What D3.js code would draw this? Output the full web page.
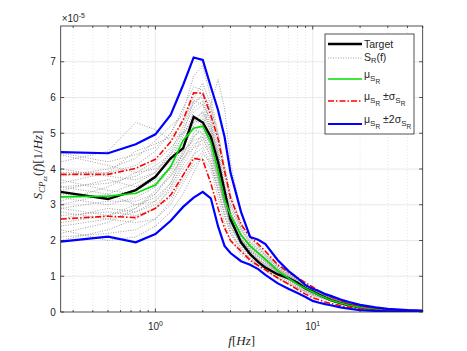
<!DOCTYPE html>
<html>
<head>
<meta charset="utf-8">
<style>
  body { margin: 0; background: #fff; }
  text { font-family: "Liberation Sans", Arial, sans-serif; fill: #262626; }
  .tex { font-family: "Liberation Serif", "DejaVu Serif", serif; font-style: italic; }
</style>
</head>
<body>
<div id="container"></div>
<script src="https://cdn.jsdelivr.net/npm/d3@7"></script>
<script>

// frequencies (Hz) for the statistic curves, values in units of 1e-5
const freq = [0.25, 0.5, 0.75, 1, 1.25, 1.5, 1.75, 2, 2.25, 2.5, 2.75, 3, 3.5, 4, 4.5, 5, 6, 7, 8, 9, 10, 11, 12, 13, 15, 17, 20, 25, 30, 40, 50];

const target   = [3.36, 3.16, 3.41, 3.78, 4.30, 4.58, 5.46, 5.30, 4.90, 4.20, 3.40, 2.60, 1.95, 1.62, 1.40, 1.24, 1.05, 0.95, 0.82, 0.66, 0.57, 0.48, 0.40, 0.33, 0.25, 0.19, 0.13, 0.08, 0.05, 0.03, 0.02];
const mu       = [3.22, 3.24, 3.32, 3.55, 4.06, 4.80, 5.14, 5.20, 4.75, 3.95, 3.15, 2.70, 2.15, 1.85, 1.65, 1.47, 1.15, 0.95, 0.78, 0.66, 0.56, 0.47, 0.40, 0.33, 0.25, 0.19, 0.13, 0.08, 0.05, 0.03, 0.02];
const muPlusS  = [3.85, 3.85, 4.02, 4.27, 4.76, 5.37, 6.13, 6.12, 5.50, 4.85, 3.95, 3.20, 2.45, 2.10, 1.90, 1.70, 1.32, 1.12, 0.96, 0.82, 0.70, 0.58, 0.50, 0.42, 0.32, 0.25, 0.17, 0.11, 0.07, 0.04, 0.03];
const muMinusS = [2.60, 2.68, 2.64, 2.90, 3.27, 3.83, 4.30, 4.25, 3.60, 2.90, 2.35, 2.00, 1.70, 1.45, 1.30, 1.18, 0.95, 0.78, 0.63, 0.50, 0.40, 0.34, 0.28, 0.24, 0.18, 0.13, 0.09, 0.05, 0.03, 0.02, 0.01];
const muPlus2S = [4.47, 4.44, 4.69, 4.97, 5.51, 6.35, 7.12, 7.05, 6.30, 5.65, 4.90, 3.90, 2.80, 2.10, 2.02, 1.90, 1.45, 1.15, 0.95, 0.75, 0.65, 0.58, 0.50, 0.45, 0.35, 0.28, 0.20, 0.13, 0.09, 0.05, 0.04];
const muMinus2S = [1.97, 2.11, 1.95, 2.18, 2.55, 2.94, 3.20, 3.36, 3.18, 2.40, 1.85, 1.65, 1.42, 1.32, 1.20, 1.04, 0.80, 0.65, 0.53, 0.42, 0.31, 0.26, 0.22, 0.19, 0.13, 0.09, 0.05, 0.03, 0.02, 0.01, 0.005];

// individual realisations S_R(f)
const sampleFreq = [0.25, 0.5, 0.75, 1, 1.25, 1.5, 1.75, 2, 2.25, 2.5, 2.75, 3, 3.5, 4, 5, 6, 8, 10, 13, 20, 30, 50];
const samples = [
  [4.45, 4.20, 4.40, 4.60, 5.00, 5.60, 6.60, 6.90, 6.00, 5.00, 4.00, 3.20, 2.40, 2.00, 1.60, 1.30, 0.90, 0.65, 0.45, 0.18, 0.08, 0.03],
  [2.20, 2.50, 2.90, 3.30, 3.80, 4.40, 5.00, 5.30, 4.80, 4.00, 3.20, 2.60, 2.00, 1.70, 1.30, 1.05, 0.78, 0.55, 0.38, 0.14, 0.06, 0.02],
  [3.90, 3.90, 4.10, 4.50, 5.00, 5.70, 6.30, 6.20, 5.60, 4.60, 3.60, 3.00, 2.30, 1.90, 1.50, 1.20, 0.85, 0.60, 0.42, 0.16, 0.07, 0.03],
  [2.90, 3.10, 3.10, 3.30, 3.90, 4.50, 4.80, 4.90, 4.30, 3.60, 3.00, 2.50, 2.00, 1.80, 1.45, 1.15, 0.80, 0.58, 0.40, 0.15, 0.06, 0.02],
  [3.50, 3.60, 3.80, 4.10, 4.40, 4.90, 5.60, 5.80, 5.40, 4.50, 3.50, 2.80, 2.20, 1.90, 1.55, 1.25, 0.85, 0.62, 0.44, 0.17, 0.07, 0.03],
  [2.40, 2.60, 2.80, 3.00, 3.40, 4.00, 4.40, 4.60, 4.20, 3.40, 2.70, 2.20, 1.80, 1.50, 1.25, 1.00, 0.70, 0.50, 0.33, 0.12, 0.05, 0.02],
  [3.20, 3.00, 3.20, 3.50, 4.00, 4.60, 5.20, 5.50, 5.00, 4.20, 3.30, 2.70, 2.10, 1.75, 1.40, 1.10, 0.80, 0.56, 0.38, 0.14, 0.06, 0.02],
  [4.20, 4.50, 5.30, 5.10, 4.80, 5.00, 5.40, 5.60, 5.20, 4.40, 3.50, 2.80, 2.20, 1.80, 1.50, 1.20, 0.82, 0.60, 0.42, 0.15, 0.06, 0.02],
  [2.70, 2.80, 2.70, 2.90, 3.50, 4.20, 4.90, 5.20, 5.80, 6.50, 5.70, 4.20, 2.80, 2.10, 1.60, 1.25, 0.88, 0.63, 0.45, 0.17, 0.07, 0.03],
  [3.70, 3.40, 3.30, 3.60, 4.10, 4.80, 5.40, 5.20, 4.60, 3.80, 3.00, 2.50, 2.00, 1.70, 1.40, 1.10, 0.76, 0.54, 0.37, 0.13, 0.05, 0.02],
  [2.10, 2.20, 2.30, 2.60, 3.00, 3.60, 4.10, 4.30, 4.00, 3.20, 2.50, 2.00, 1.60, 1.40, 1.15, 0.92, 0.66, 0.45, 0.30, 0.10, 0.04, 0.015],
  [3.00, 3.30, 3.60, 3.90, 4.50, 5.20, 5.90, 6.00, 5.30, 4.40, 3.40, 2.90, 2.30, 1.95, 1.60, 1.30, 0.90, 0.64, 0.46, 0.17, 0.07, 0.03],
  [4.40, 4.10, 3.90, 4.00, 4.30, 4.80, 5.10, 5.00, 4.50, 3.70, 3.00, 2.40, 1.90, 1.60, 1.35, 1.10, 0.75, 0.52, 0.36, 0.13, 0.05, 0.02],
  [2.50, 2.70, 3.00, 3.20, 3.60, 4.30, 4.70, 4.80, 4.50, 3.80, 3.10, 2.50, 1.95, 1.65, 1.35, 1.08, 0.74, 0.52, 0.35, 0.13, 0.05, 0.02],
  [3.40, 3.70, 3.50, 3.80, 4.20, 5.00, 5.90, 5.80, 5.00, 4.00, 3.20, 2.60, 2.05, 1.75, 1.45, 1.15, 0.80, 0.57, 0.40, 0.15, 0.06, 0.02],
  [2.30, 2.00, 2.10, 2.40, 2.80, 3.30, 3.90, 4.40, 4.20, 3.50, 2.80, 2.30, 1.75, 1.50, 1.20, 0.95, 0.68, 0.47, 0.32, 0.11, 0.04, 0.015],
  [3.80, 4.00, 4.30, 4.80, 5.20, 5.50, 5.80, 6.10, 5.70, 5.00, 4.10, 3.30, 2.50, 2.05, 1.65, 1.30, 0.90, 0.66, 0.47, 0.18, 0.08, 0.03],
  [2.80, 2.60, 2.50, 2.60, 3.10, 3.80, 4.40, 4.90, 4.60, 3.80, 3.00, 2.40, 1.85, 1.55, 1.30, 1.02, 0.72, 0.50, 0.34, 0.12, 0.05, 0.02],
  [3.10, 3.50, 3.90, 4.20, 4.60, 5.00, 5.30, 5.40, 4.90, 4.10, 3.30, 2.70, 2.15, 1.85, 1.50, 1.20, 0.84, 0.60, 0.42, 0.16, 0.06, 0.02],
  [2.60, 2.90, 2.80, 3.10, 3.50, 4.10, 4.60, 5.00, 4.70, 3.90, 3.10, 2.55, 2.00, 1.70, 1.40, 1.12, 0.78, 0.56, 0.38, 0.14, 0.05, 0.02],
  [4.00, 3.80, 3.70, 3.90, 4.40, 5.10, 5.70, 5.90, 5.20, 4.30, 3.40, 2.75, 2.15, 1.85, 1.50, 1.20, 0.83, 0.59, 0.41, 0.15, 0.06, 0.02],
  [3.30, 3.20, 3.40, 3.70, 4.00, 4.40, 4.90, 5.10, 4.70, 4.00, 3.20, 2.60, 2.05, 1.72, 1.42, 1.12, 0.79, 0.56, 0.39, 0.14, 0.06, 0.02],
  [2.00, 2.30, 2.60, 2.90, 3.20, 3.70, 4.20, 4.50, 4.10, 3.40, 2.70, 2.20, 1.70, 1.45, 1.20, 0.96, 0.68, 0.48, 0.33, 0.12, 0.05, 0.02],
  [3.60, 3.90, 4.50, 4.70, 4.90, 5.30, 6.00, 6.40, 5.80, 4.80, 3.80, 3.05, 2.35, 1.95, 1.55, 1.25, 0.87, 0.62, 0.44, 0.17, 0.07, 0.03],
  [2.90, 2.70, 2.90, 3.40, 3.80, 4.30, 4.60, 4.70, 4.40, 3.70, 2.95, 2.40, 1.90, 1.62, 1.32, 1.06, 0.75, 0.53, 0.36, 0.13, 0.05, 0.02],
  [3.50, 3.30, 3.00, 3.10, 3.60, 4.50, 5.30, 5.60, 5.10, 4.30, 3.40, 2.75, 2.15, 1.80, 1.48, 1.18, 0.82, 0.58, 0.40, 0.15, 0.06, 0.02]
];

const yTicks = [0, 1, 2, 3, 4, 5, 6, 7];
const xMajor = [1, 10];
const xMinor = [0.3, 0.4, 0.5, 0.6, 0.7, 0.8, 0.9, 2, 3, 4, 5, 6, 7, 8, 9, 20, 30, 40, 50];

const W = 467, H = 351;
const m = { left: 60.7, right: 467 - 422.7, top: 26, bottom: 351 - 312 };

const svg = d3.select("#container").append("svg")
  .attr("width", W).attr("height", H);

const x = d3.scaleLog().domain([0.25, 50]).range([m.left, W - m.right]);
const y = d3.scaleLinear().domain([0, 8]).range([H - m.bottom, m.top]);

const plot = svg.append("g");

// grid
plot.selectAll(".hgrid").data(yTicks.filter(d => d > 0)).join("line")
  .attr("x1", x.range()[0]).attr("x2", x.range()[1])
  .attr("y1", d => y(d)).attr("y2", d => y(d))
  .attr("stroke", "#e3e3e3").attr("stroke-width", 0.8);
plot.selectAll(".vminor").data(xMinor.filter(d => d < 50)).join("line")
  .attr("x1", d => x(d)).attr("x2", d => x(d))
  .attr("y1", y.range()[0]).attr("y2", y.range()[1])
  .attr("stroke", "#dcdcdc").attr("stroke-width", 0.7).attr("stroke-dasharray", "1,2");
plot.selectAll(".vmajor").data(xMajor).join("line")
  .attr("x1", d => x(d)).attr("x2", d => x(d))
  .attr("y1", y.range()[0]).attr("y2", y.range()[1])
  .attr("stroke", "#e3e3e3").attr("stroke-width", 0.8);

svg.append("clipPath").attr("id", "clip").append("rect")
  .attr("x", m.left).attr("y", m.top)
  .attr("width", W - m.left - m.right).attr("height", H - m.top - m.bottom);

const lines = plot.append("g").attr("clip-path", "url(#clip)");

const lineOn = xs => d3.line().x((d, i) => x(xs[i])).y(d => y(d));

// samples
lines.selectAll(".sample").data(samples).join("path")
  .attr("d", lineOn(sampleFreq))
  .attr("fill", "none").attr("stroke", "#8c8c8c").attr("stroke-width", 0.8)
  .attr("stroke-dasharray", "1,1.5");

lines.append("path").attr("d", lineOn(freq)(target))
  .attr("fill", "none").attr("stroke", "#000").attr("stroke-width", 2.4);
lines.append("path").attr("d", lineOn(freq)(mu))
  .attr("fill", "none").attr("stroke", "#00dd00").attr("stroke-width", 1.6);
[muPlusS, muMinusS].forEach(s => lines.append("path").attr("d", lineOn(freq)(s))
  .attr("fill", "none").attr("stroke", "#ff0000").attr("stroke-width", 1.6)
  .attr("stroke-dasharray", "6,2,1.5,2"));
[muPlus2S, muMinus2S].forEach(s => lines.append("path").attr("d", lineOn(freq)(s))
  .attr("fill", "none").attr("stroke", "#0000ff").attr("stroke-width", 2.2));

// axes box and ticks
const x0 = x.range()[0], x1 = x.range()[1], yb = y.range()[0], yt = y.range()[1];
const ax = svg.append("g").attr("stroke", "#262626").attr("stroke-width", 0.8);
ax.append("rect").attr("x", x0).attr("y", yt).attr("width", x1 - x0).attr("height", yb - yt)
  .attr("fill", "none");
yTicks.forEach(t => {
  ax.append("line").attr("x1", x0).attr("x2", x0 + 3.5).attr("y1", y(t)).attr("y2", y(t));
  ax.append("line").attr("x1", x1).attr("x2", x1 - 3.5).attr("y1", y(t)).attr("y2", y(t));
});
xMajor.forEach(t => {
  ax.append("line").attr("x1", x(t)).attr("x2", x(t)).attr("y1", yb).attr("y2", yb - 3.5);
  ax.append("line").attr("x1", x(t)).attr("x2", x(t)).attr("y1", yt).attr("y2", yt + 3.5);
});
xMinor.forEach(t => {
  ax.append("line").attr("x1", x(t)).attr("x2", x(t)).attr("y1", yb).attr("y2", yb - 2);
  ax.append("line").attr("x1", x(t)).attr("x2", x(t)).attr("y1", yt).attr("y2", yt + 2);
});

// tick labels
svg.selectAll(".ylab").data(yTicks).join("text")
  .attr("x", x0 - 5).attr("y", d => y(d) + 3.5)
  .attr("text-anchor", "end").attr("font-size", 10).text(d => d);
xMajor.forEach(t => {
  const tx = svg.append("text").attr("x", x(t)).attr("y", yb + 18)
    .attr("text-anchor", "middle").attr("font-size", 10);
  tx.append("tspan").text("10");
  tx.append("tspan").attr("dy", -4).attr("font-size", 7).text(Math.log10(t));
});

// exponent
const ex = svg.append("text").attr("x", x0 + 1).attr("y", 22).attr("font-size", 10);
ex.append("tspan").text("\u00d710");
ex.append("tspan").attr("dy", -4).attr("font-size", 7).text("-5");

// axis labels
const xl = svg.append("text").attr("class", "tex").attr("x", (x0 + x1) / 2).attr("y", 345)
  .attr("text-anchor", "middle").attr("font-size", 13);
xl.append("tspan").text("f");
xl.append("tspan").attr("font-style", "normal").text("[");
xl.append("tspan").text("Hz");
xl.append("tspan").attr("font-style", "normal").text("]");

const yl = svg.append("text").attr("class", "tex")
  .attr("transform", `translate(42,${(yt + yb) / 2 - 4}) rotate(-90)`)
  .attr("text-anchor", "middle").attr("font-size", 13);
yl.append("tspan").text("S");
yl.append("tspan").attr("dy", 3).attr("font-size", 9).text("CP");
yl.append("tspan").attr("dy", 2).attr("font-size", 7).text("zz");
yl.append("tspan").attr("dy", -5).attr("font-style", "normal").text("(");
yl.append("tspan").text("f");
yl.append("tspan").attr("font-style", "normal").text(")[1/");
yl.append("tspan").text("Hz");
yl.append("tspan").attr("font-style", "normal").text("]");

// legend
const lg = svg.append("g");
lg.append("rect").attr("x", 325).attr("y", 34).attr("width", 89).attr("height", 100)
  .attr("fill", "#fff").attr("stroke", "#262626").attr("stroke-width", 0.8);
const legendRows = [
  { y: 44, stroke: "#000", w: 2.4, dash: null },
  { y: 58, stroke: "#8c8c8c", w: 0.8, dash: "1,1.5" },
  { y: 79, stroke: "#00dd00", w: 1.6, dash: null },
  { y: 101, stroke: "#ff0000", w: 1.6, dash: "6,2,1.5,2" },
  { y: 124, stroke: "#0000ff", w: 2.2, dash: null }
];
legendRows.forEach(r => lg.append("line")
  .attr("x1", 328).attr("x2", 362).attr("y1", r.y).attr("y2", r.y)
  .attr("stroke", r.stroke).attr("stroke-width", r.w).attr("stroke-dasharray", r.dash));

function subSR(t) {
  t.append("tspan").attr("dy", 3).attr("font-size", 8).text("S");
  t.append("tspan").attr("dy", 2.5).attr("font-size", 6.5).text("R");
  t.append("tspan").attr("dy", -5.5).text(" ");
}
const fs = 10.5;
let t = lg.append("text").attr("x", 364).attr("y", 48).attr("font-size", fs).text("Target");
t = lg.append("text").attr("x", 364).attr("y", 60.5).attr("font-size", fs);
t.append("tspan").text("S");
t.append("tspan").attr("dy", 2.5).attr("font-size", 7.5).text("R");
t.append("tspan").attr("dy", -2.5).text("(f)");
t = lg.append("text").attr("x", 364).attr("y", 78).attr("font-size", fs);
t.append("tspan").text("\u03bc");
subSR(t);
t = lg.append("text").attr("x", 364).attr("y", 100).attr("font-size", fs);
t.append("tspan").text("\u03bc");
subSR(t);
t.append("tspan").text("\u00b1\u03c3");
subSR(t);
t = lg.append("text").attr("x", 364).attr("y", 123).attr("font-size", fs);
t.append("tspan").text("\u03bc");
subSR(t);
t.append("tspan").text("\u00b12\u03c3");
subSR(t);

</script>
</body>
</html>
